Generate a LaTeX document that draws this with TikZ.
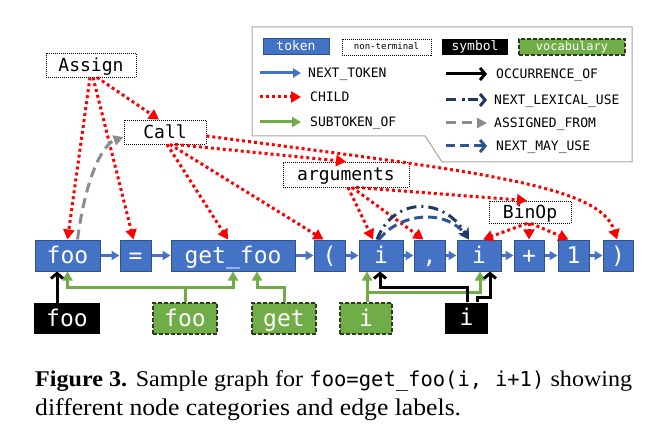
\documentclass[tikz,border=0pt]{standalone}
\usepackage{fontspec}
\setmainfont{Liberation Serif}[FakeStretch=1.07]
\newfontfamily\codefont{DejaVu Sans Mono}
\usetikzlibrary{arrows.meta,calc}

\definecolor{tokblue}{HTML}{4472C4}
\definecolor{tokedge}{HTML}{2F528F}
\definecolor{vocgreen}{HTML}{70AD47}
\definecolor{vocedge}{HTML}{2E3B22}
\definecolor{lexnavy}{HTML}{1F3864}
\definecolor{mayblue}{HTML}{2F5597}
\definecolor{assigngray}{HTML}{8C8C8C}
\definecolor{legendgray}{HTML}{A6A6A6}
\definecolor{childred}{HTML}{FF0000}

\tikzset{
  % node kinds
  tokenbox/.style={draw=tokedge, fill=tokblue, line width=1pt, text=white,
    inner sep=0pt, minimum height=31pt,
    font=\codefont\fontsize{23}{23}\selectfont, text height=19pt, text depth=4pt},
  ntbox/.style={draw=black, dash pattern=on 1pt off 1pt, line width=0.8pt, fill=white,
    inner sep=0pt, font=\codefont\fontsize{18}{18}\selectfont, text height=16pt, text depth=3pt},
  symbox/.style={fill=black, text=white, inner sep=0pt, minimum height=31pt,
    font=\codefont\fontsize{23}{23}\selectfont, text height=19pt, text depth=4pt},
  vocbox/.style={draw=vocedge, fill=vocgreen, dash pattern=on 4pt off 2pt, line width=1.2pt,
    text=white, inner sep=0pt, minimum height=31pt,
    font=\codefont\fontsize{23}{23}\selectfont, text height=19pt, text depth=4pt},
  legtext/.style={anchor=west, inner sep=0pt, font=\codefont\fontsize{13}{13}\selectfont,
    text height=9pt, text depth=0pt},
  % edge kinds
  nexttoken/.style={draw=tokblue, line width=3pt, -{Triangle[length=8pt,width=9pt]}},
  childedge/.style={draw=childred, line width=3pt, dash pattern=on 3pt off 3pt,
    -{Triangle[length=10pt,width=11pt]}},
  subtoken/.style={draw=vocgreen, line width=3pt, -{Triangle[length=9pt,width=10pt]}},
  occurrence/.style={draw=black, line width=3pt,
    -{Straight Barb[length=5pt,width=12pt,line width=3pt]}},
  lexuse/.style={draw=lexnavy, line width=3pt,
    dash pattern=on 10pt off 5pt on 2pt off 5pt,
    -{Stealth[length=11pt,width=12pt]}},
  lexleg/.style={draw=lexnavy, line width=3pt,
    dash pattern=on 10pt off 6pt on 3pt off 3pt,
    -{Straight Barb[length=5pt,width=12pt,line width=3pt]}},
  assigned/.style={draw=assigngray, line width=3pt, dash pattern=on 10pt off 6pt,
    -{Triangle[length=10pt,width=10pt]}},
  mayuse/.style={draw=mayblue, line width=3pt, dash pattern=on 9pt off 5pt,
    -{Straight Barb[length=5pt,width=12pt,line width=3pt]}},
  mayarc/.style={draw=mayblue, line width=3pt, dash pattern=on 9pt off 5pt,
    -{Stealth[length=10pt,width=11pt]}},
}

\begin{document}
\begin{tikzpicture}[x=1pt, y=-1pt]
\useasboundingbox (0,0) rectangle (655,430);

% ---- token row ----
\node[tokenbox, minimum width=65pt]  (tfoo)   at (67.5,255.5) {foo};
\node[tokenbox, minimum width=31pt]  (teq)    at (135.5,255.5) {=};
\node[tokenbox, minimum width=124pt] (tget)   at (233,255.5) {get\_foo};
\node[tokenbox, minimum width=31pt]  (tlp)    at (329.5,255.5) {(};
\node[tokenbox, minimum width=44pt]  (ti1)    at (381,255.5) {i};
\node[tokenbox, minimum width=31pt]  (tcomma) at (429.5,255.5) {,};
\node[tokenbox, minimum width=44pt]  (ti2)    at (479,255.5) {i};
\node[tokenbox, minimum width=30pt]  (tplus)  at (529,255.5) {+};
\node[tokenbox, minimum width=31pt]  (tone)   at (573.5,255.5) {1};
\node[tokenbox, minimum width=30pt]  (trp)    at (618,255.5) {)};

% ---- symbols and vocabulary ----
\node[symbox, minimum width=66pt] (sfoo) at (67,318.5) {foo};
\node[vocbox, minimum width=64pt] (vfoo) at (185,318.5) {foo};
\node[vocbox, minimum width=64pt] (vget) at (284,318.5) {get};
\node[vocbox, minimum width=52pt] (vi)   at (366,318.5) {i};
\node[symbox, minimum width=43pt] (si)   at (466.5,318) {i};

% ---- non-terminals ----
\node[ntbox, minimum width=90pt,  minimum height=24pt] (assign) at (91,65)    {Assign};
\node[ntbox, minimum width=82pt,  minimum height=24pt] (call)   at (165,132)  {Call};
\node[ntbox, minimum width=126pt, minimum height=25pt] (args)   at (346,174.5) {arguments};
\node[ntbox, minimum width=82pt,  minimum height=22pt] (binop)  at (530,212)  {BinOp};

% ---- NEXT_TOKEN ----
\foreach \a/\b in {tfoo/teq, teq/tget, tget/tlp, tlp/ti1, ti1/tcomma,
                   tcomma/ti2, ti2/tplus, tplus/tone, tone/trp}
  \draw[nexttoken] (\a.east) -- (\b.west);

% ---- CHILD ----
\draw[childedge] ([xshift=-1pt]assign.south) -- (tfoo.north);
\draw[childedge] ([xshift=2pt]assign.south) -- ([xshift=-2pt]teq.north);
\draw[childedge] ([xshift=6pt]assign.south) -- ([xshift=-6pt]call.north);
\draw[childedge] ([xshift=2pt]call.south) -- ([xshift=-5pt]tget.north);
\draw[childedge] ([xshift=5pt]call.south) -- ([xshift=-6pt]tlp.north);
\draw[childedge] ([xshift=10pt]call.south) -- (args.north);
\draw[childedge] ([yshift=-4pt]call.east) .. controls (480,172) and (600,185) .. ([xshift=-1pt]trp.north);
\draw[childedge] ([xshift=2pt]args.south) -- ([xshift=-8pt]ti1.north);
\draw[childedge] ([xshift=6pt]args.south) -- ([xshift=-6pt]tcomma.north);
\draw[childedge] ([xshift=10pt]args.south) -- ([xshift=-3pt]binop.north);
\draw[childedge] ([xshift=-3pt]binop.south) -- ([xshift=4pt]ti2.north);
\draw[childedge] ([xshift=-1pt]binop.south) -- (tplus.north);
\draw[childedge] ([xshift=1pt]binop.south) -- ([xshift=-5pt]tone.north);

% ---- ASSIGNED_FROM ----
\draw[assigned] ([xshift=10pt]tfoo.north) .. controls +(8,-60) and +(-22,8) .. ([yshift=-5pt]call.west);

% ---- NEXT_LEXICAL_USE and NEXT_MAY_USE between the two uses of i ----
\draw[mayarc] ([xshift=-2pt]ti1.north) .. controls +(22,-28) and +(-22,-30) .. ([xshift=-10pt]ti2.north);
\draw[lexuse] ([xshift=-4pt]ti1.north) .. controls +(16,-42) and +(-26,-44) .. ([xshift=-10pt]ti2.north);

% ---- SUBTOKEN_OF ----
\draw[subtoken] (vfoo.north) |- (185,287) -| (tfoo.south);
\draw[subtoken] (vfoo.north) |- (185,287) -| (tget.south);
\draw[subtoken] (vget.north) |- (284,287) -| ([xshift=24pt]tget.south);
\draw[subtoken] ([xshift=1pt]vi.north) -- ([xshift=-14pt]ti1.south);
\draw[subtoken] ([xshift=1pt]vi.north) |- (367,292) -| ([xshift=1pt]ti2.south);

% ---- OCCURRENCE_OF ----
\draw[occurrence] ([xshift=-10pt]sfoo.north) -- ([xshift=-10.5pt]tfoo.south);
\draw[occurrence] ([xshift=0.5pt]si.north) |- (467,287) -| ([xshift=-1pt]ti1.south);
\draw[occurrence] ([xshift=10.5pt]si.north) |- (477,297) -| ([xshift=11pt]ti2.south);

% ---- legend ----
\draw[draw=legendgray, line width=1pt, fill=white]
  (252,27) -- (632,27) -- (632,162) -- (442,162) -- (425,136) -- (252,136) -- cycle;

\node[draw=tokedge, fill=tokblue, line width=1pt, text=white, inner sep=0pt,
      minimum width=66pt, minimum height=16pt,
      font=\codefont\fontsize{13}{13}\selectfont, text height=9pt, text depth=2pt]
      (legtok) at (296,47) {token};
\node[draw=black, dash pattern=on 1pt off 1pt, line width=0.8pt, inner sep=0pt,
      minimum width=89pt, minimum height=16pt,
      font=\codefont\fontsize{9}{9}\selectfont, text height=7pt, text depth=2pt]
      (legnt) at (386.5,47) {non-terminal};
\node[fill=black, text=white, inner sep=0pt,
      minimum width=66pt, minimum height=16pt,
      font=\codefont\fontsize{13}{13}\selectfont, text height=9pt, text depth=2pt]
      (legsym) at (475,47) {symbol};
\node[draw=vocedge, fill=vocgreen, dash pattern=on 4pt off 2pt, line width=1.2pt,
      text=white, inner sep=0pt, minimum width=106pt, minimum height=16pt,
      font=\codefont\fontsize{12}{12}\selectfont, text height=9pt, text depth=2pt]
      (legvoc) at (572,47) {vocabulary};

\coordinate (lA1) at (260,73);  \coordinate (lA2) at (301,73);
\coordinate (lB1) at (260,97);  \coordinate (lB2) at (301,97);
\coordinate (lC1) at (260,122); \coordinate (lC2) at (301,122);
\coordinate (lD1) at (446,74);  \coordinate (lD2) at (487,74);
\coordinate (lE1) at (446,100); \coordinate (lE2) at (487,100);
\coordinate (lF1) at (446,123); \coordinate (lF2) at (487,123);
\coordinate (lG1) at (446,146); \coordinate (lG2) at (487,146);

\draw[nexttoken]  (lA1) -- (lA2);
\draw[childedge]  (lB1) -- (lB2);
\draw[subtoken]   (lC1) -- (lC2);
\draw[occurrence] (lD1) -- (lD2);
\draw[lexleg]     (lE1) -- (lE2);
\draw[assigned]   (lF1) -- (lF2);
\draw[mayuse]     (lG1) -- (lG2);

\node[legtext] (ltA) at (308,73)  {NEXT\_TOKEN};
\node[legtext] (ltB) at (310,97)  {CHILD};
\node[legtext] (ltC) at (310,122) {SUBTOKEN\_OF};
\node[legtext] (ltD) at (496,74)  {OCCURRENCE\_OF};
\node[legtext] (ltE) at (494,100) {NEXT\_LEXICAL\_USE};
\node[legtext] (ltF) at (494,123) {ASSIGNED\_FROM};
\node[legtext] (ltG) at (496,146) {NEXT\_MAY\_USE};

% ---- caption (first line justified to the column width) ----
\node[anchor=base west, inner sep=0pt, font=\fontsize{22.5}{24}\selectfont] (cap1) at (35,386)
  {\hbox to 597pt{\textbf{Figure 3.} Sample graph for {\codefont\fontsize{20.5}{20.5}\selectfont foo=get\_foo(i, i+1)} showing}};
\node[anchor=base west, inner sep=0pt, font=\fontsize{24}{24}\selectfont] (cap2) at (35,415)
  {different node categories and edge labels.};
\end{tikzpicture}
\end{document}
